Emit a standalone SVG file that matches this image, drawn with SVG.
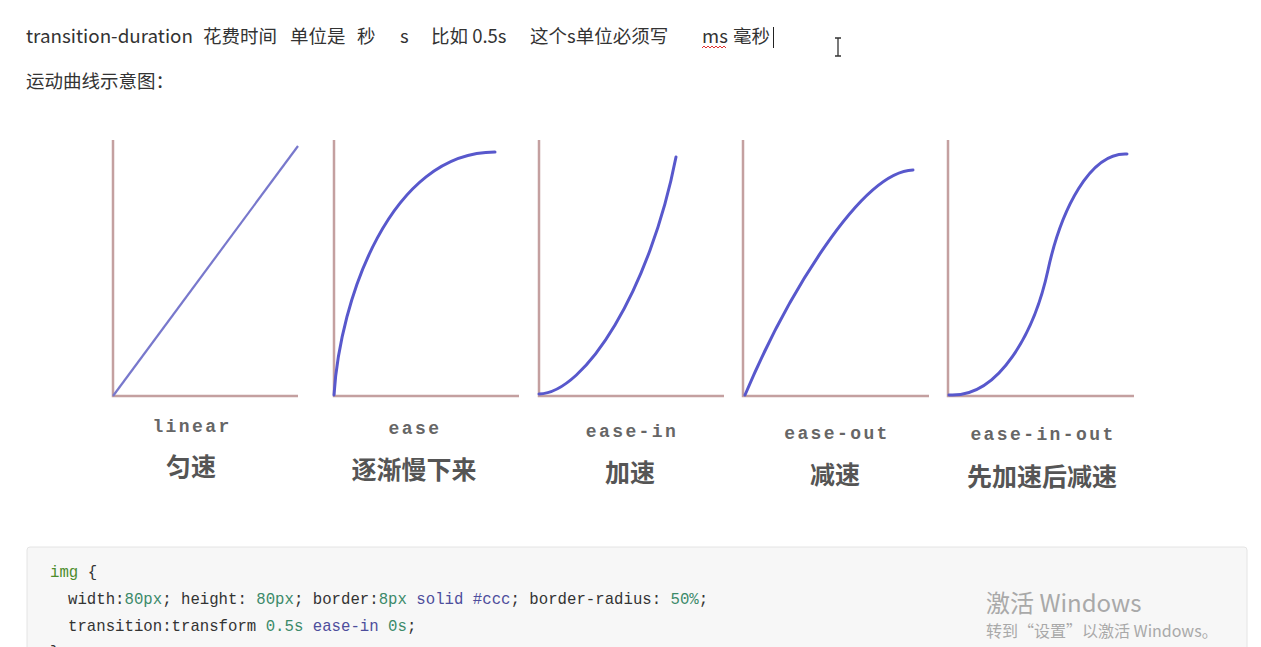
<svg xmlns="http://www.w3.org/2000/svg" width="1261" height="647" viewBox="0 0 1261 647">
<style>
.t{font-family:"Noto Sans CJK SC","Noto Sans",sans-serif;font-size:18.5px;fill:#333}
.ax{stroke:#c4a0a0;stroke-width:2.5;fill:none}
.cv{stroke:#5858cc;stroke-width:3;fill:none;stroke-linecap:round}
.en{font-family:"Liberation Mono",monospace;font-weight:bold;font-size:18px;letter-spacing:2.4px;fill:#666;text-anchor:middle}
.zh{font-family:"Noto Sans CJK SC",sans-serif;font-weight:bold;font-size:25px;fill:#555;text-anchor:middle}
.code{font-family:"Liberation Mono",monospace;font-size:15.7px;fill:#333}
.num{fill:#3c8a6a}
.kw{fill:#4d4d9c}
.tag{fill:#4c8c2c}
.wm{font-family:"Noto Sans CJK SC","Noto Sans",sans-serif;fill:#a9a9a9}
</style>
<rect width="1261" height="647" fill="#ffffff"/>
<g id="heading">
<text class="t" x="26" y="43" textLength="167" lengthAdjust="spacingAndGlyphs">transition-duration</text>
<text class="t" x="203" y="43">花费时间</text>
<text class="t" x="290" y="43">单位是</text>
<text class="t" x="357" y="43">秒</text>
<text class="t" x="400" y="43">s</text>
<text class="t" x="431" y="43">比如 0.5s</text>
<text class="t" x="530" y="43">这个s单位必须写</text>
<text class="t" x="702" y="43">ms</text>
<text class="t" x="733" y="43">毫秒</text>
<path d="M702,48 l2,-2 l2,2 l2,-2 l2,2 l2,-2 l2,2 l2,-2 l2,2 l2,-2 l2,2 l2,-2 l2,2" stroke="#e03030" stroke-width="1" fill="none"/>
<line x1="773.5" y1="27" x2="773.5" y2="48" stroke="#222" stroke-width="1"/>
<path d="M835,38 h6 M838,38 v18 M835,56 h6" stroke="#333" stroke-width="1.3" fill="none"/>
<text class="t" x="26" y="88">运动曲线示意图：</text>
</g>
<g id="chart-linear">
<path class="ax" d="M113,140 V396 H298"/>
<line x1="113" y1="396" x2="298" y2="146" stroke="#7878cc" stroke-width="2.2"/>
<text class="en" x="192" y="432">linear</text>
<text class="zh" x="191" y="476">匀速</text>
</g>
<g id="chart-ease">
<path class="ax" d="M334,140 V396 H519"/>
<path class="cv" d="M334,395 C340,300 390,152 495,152"/>
<text class="en" x="415" y="434">ease</text>
<text class="zh" x="414" y="479">逐渐慢下来</text>
</g>
<g id="chart-ease-in">
<path class="ax" d="M539,140 V396 H724"/>
<path class="cv" d="M539,394 C585,393 650,290 676,157"/>
<text class="en" x="632" y="437">ease-in</text>
<text class="zh" x="630" y="482">加速</text>
</g>
<g id="chart-ease-out">
<path class="ax" d="M743,140 V396 H929"/>
<path class="cv" d="M745,395 C785,300 860,172 913,170"/>
<text class="en" x="837" y="439">ease-out</text>
<text class="zh" x="835" y="484">减速</text>
</g>
<g id="chart-ease-in-out">
<path class="ax" d="M948,140 V396 H1134"/>
<path class="cv" d="M949,395 C1000,398 1035,330 1048,270 C1061,210 1090,152 1127,154"/>
<text class="en" x="1043" y="440">ease-in-out</text>
<text class="zh" x="1042" y="486">先加速后减速</text>
</g>
<g id="code-block">
<rect x="27" y="547" width="1220" height="120" rx="3" fill="#f7f7f7" stroke="#e4e4e4"/>
<text class="code" x="50" y="577"><tspan class="tag">img</tspan> {</text>
<text class="code" x="68" y="604">width:<tspan class="num">80px</tspan>; height: <tspan class="num">80px</tspan>; border:<tspan class="num">8px</tspan> <tspan class="kw">solid</tspan> <tspan class="kw">#ccc</tspan>; border-radius: <tspan class="num">50%</tspan>;</text>
<text class="code" x="68" y="631">transition:transform <tspan class="num">0.5s</tspan> <tspan class="kw">ease-in</tspan> <tspan class="num">0s</tspan>;</text>
<text class="code" x="50" y="657">}</text>
</g>
<g id="watermark">
<text class="wm" x="986" y="612" font-size="24">激活 Windows</text>
<text class="wm" x="986" y="637" font-size="16">转到“设置”以激活 Windows。</text>
</g>
</svg>
